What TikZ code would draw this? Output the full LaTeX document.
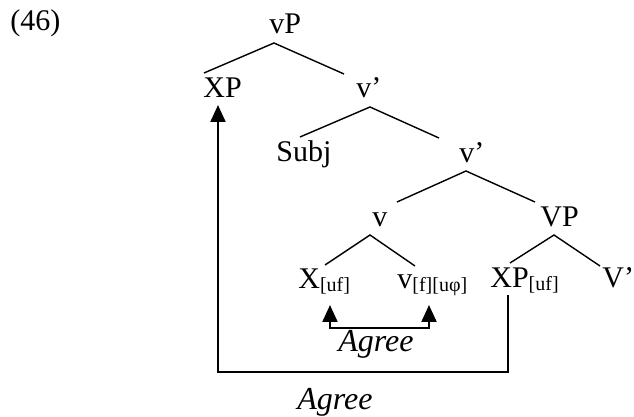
\documentclass[tikz,border=0pt]{standalone}
\usepackage{fontspec}
\setmainfont{Liberation Serif}
\usetikzlibrary{arrows.meta}
\newcommand{\fsub}[1]{\raisebox{-1.5pt}{\fontsize{10}{12}\selectfont #1}}
\tikzset{
  lbl/.style={inner sep=0pt, anchor=base west, font=\fontsize{15}{18}\selectfont},
  agreelbl/.style={inner sep=0pt, anchor=base west, font=\fontsize{16}{19}\selectfont\itshape},
  branch/.style={line width=0.7pt},
  agreeline/.style={line width=1.1pt, line cap=rect},
  tip/.tip={Triangle[width=7.5pt,length=8.5pt]}
}
\begin{document}
\begin{tikzpicture}[x=0.5pt,y=-0.5pt]
\useasboundingbox (0,0) rectangle (634,417);
% nodes
\node[lbl] (ex)   at (10,31)  {(46)};
\node[lbl] (vP)   at (269,34) {vP};
\node[lbl] (XP)   at (203,98) {XP};
\node[lbl] (vb1)  at (356,98) {v’};
\node[lbl] (Subj) at (276,162) {Subj};
\node[lbl] (vb2)  at (459,163) {v’};
\node[lbl] (v)    at (372,227) {v};
\node[lbl] (VP)   at (540,227) {VP};
\node[lbl] (X)    at (298,289) {X\fsub{[uf]}};
\node[lbl] (vf)   at (397,289) {v\fsub{[f][uφ]}};
\node[lbl] (XPuf) at (490,288) {XP\fsub{[uf]}};
\node[lbl] (Vb)   at (602,288) {V’};
\node[agreelbl] (ag1) at (338,352) {Agree};
\node[agreelbl] (ag2) at (297,410) {Agree};
% branches
\draw[branch] ([shift={(1,-25)}]XP.base west) -- ([shift={(5,9)}]vP.base west) -- ([shift={(-12,-24)}]vb1.base west);
\draw[branch] ([shift={(24,-25)}]Subj.base west) -- ([shift={(14,9)}]vb1.base west) -- ([shift={(-20,-25)}]vb2.base west);
\draw[branch] ([shift={(25,-25)}]v.base west) -- ([shift={(7,8)}]vb2.base west) -- ([shift={(-5,-25)}]VP.base west);
\draw[branch] ([shift={(27,-24)}]X.base west) -- ([shift={(-2,8)}]v.base west) -- ([shift={(18,-23)}]vf.base west);
\draw[branch] ([shift={(20,-25)}]XPuf.base west) -- ([shift={(14,8)}]VP.base west) -- ([shift={(-2,-22)}]Vb.base west);
% agree arrows
\draw[agreeline, tip-tip] ([shift={(32,16)}]X.base west) -- ++(0,23) -| ([shift={(32,16)}]vf.base west);
\draw[agreeline, -tip] ([shift={(18,8)}]XPuf.base west) -- ++(0,76) -| ([shift={(15,7)}]XP.base west);
\end{tikzpicture}
\end{document}
